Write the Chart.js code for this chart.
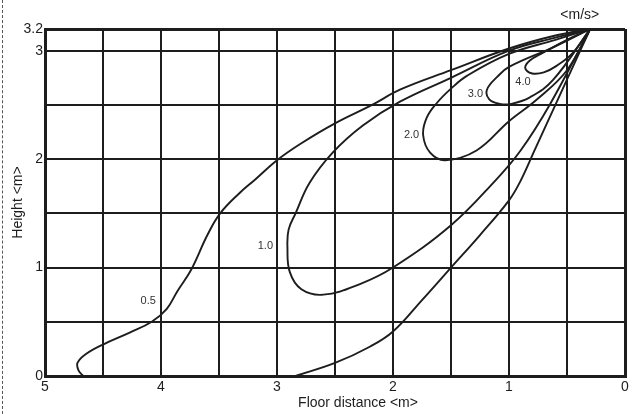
<!DOCTYPE html>
<html>
<head>
<meta charset="utf-8">
<title>Air velocity distribution</title>
<script src="https://cdn.jsdelivr.net/npm/chart.js@4.4.1/dist/chart.umd.min.js"></script>
<style>
  html, body { margin: 0; padding: 0; background: #fff; }
  #wrap { position: relative; width: 632px; height: 414px; }
  #edge { position: absolute; left: 2px; top: 0; height: 414px; border-left: 1px dashed #555; }
</style>
</head>
<body>
<div id="wrap">
  <div id="edge"></div>
  <canvas id="velocityChart"></canvas>
</div>
<script>
// air speed of each contour, m/s
const speeds = [0.5, 1.0, 2.0, 3.0, 4.0];

// contour lines as [floor distance, height] in m, all leaving the outlet at (0.3, 3.2)
const contour05Upper = [
  [4.67, 0.0], [4.71, 0.05], [4.72, 0.12], [4.65, 0.2], [4.5, 0.29], [4.27, 0.4],
  [4.08, 0.5], [3.95, 0.62], [3.86, 0.78], [3.74, 0.98], [3.6, 1.3], [3.49, 1.5],
  [3.32, 1.69], [3.19, 1.81], [3.0, 1.99], [2.8, 2.14], [2.5, 2.33], [2.18, 2.5],
  [1.94, 2.64], [1.5, 2.82], [1.0, 3.02], [0.6, 3.14], [0.3, 3.2]
];
const contour05Lower = [
  [0.3, 3.2], [0.45, 2.85], [0.6, 2.5], [0.78, 2.08], [0.9, 1.8], [1.0, 1.62],
  [1.25, 1.3], [1.5, 1.0], [1.75, 0.7], [2.0, 0.41], [2.2, 0.27], [2.5, 0.12], [2.84, 0.0]
];
const contour10 = [
  [0.3, 3.2], [0.6, 3.12], [1.0, 3.0], [1.5, 2.75], [1.94, 2.53], [2.26, 2.31],
  [2.52, 2.06], [2.72, 1.78], [2.84, 1.5], [2.9, 1.35], [2.91, 1.19], [2.89, 0.96],
  [2.79, 0.8], [2.6, 0.75], [2.28, 0.85], [2.0, 1.0], [1.5, 1.39], [1.12, 1.8],
  [0.9, 2.08], [0.65, 2.5], [0.3, 3.2]
];
const contour20 = [
  [0.3, 3.2], [0.6, 3.1], [1.0, 2.97], [1.36, 2.77], [1.5, 2.65], [1.62, 2.52],
  [1.71, 2.38], [1.74, 2.22], [1.68, 2.06], [1.55, 1.99], [1.28, 2.08], [1.0, 2.35],
  [0.76, 2.55], [0.5, 2.82], [0.3, 3.2]
];
const contour30 = [
  [0.3, 3.2], [0.6, 3.04], [1.0, 2.85], [1.1, 2.76], [1.19, 2.64], [1.17, 2.55],
  [1.08, 2.51], [0.98, 2.51], [0.82, 2.57], [0.62, 2.73], [0.3, 3.2]
];
const contour40 = [
  [0.3, 3.2], [0.5, 3.1], [0.71, 2.98], [0.82, 2.91], [0.86, 2.84], [0.8, 2.79],
  [0.7, 2.8], [0.59, 2.86], [0.45, 2.98], [0.3, 3.2]
];

// where each speed label sits, same order as speeds
const labelAt = [[4.11, 0.69], [3.1, 1.2], [1.84, 2.22], [1.29, 2.6], [0.88, 2.71]];

// grid every 0.5 m, numbers only on whole metres (plus the 3.2 ceiling)
const xTicks = [0, 0.5, 1, 1.5, 2, 2.5, 3, 3.5, 4, 4.5, 5];
const xLabels = ["0", "", "1", "", "2", "", "3", "", "4", "", "5"];
const yTicks = [0, 0.5, 1, 1.5, 2, 2.5, 3, 3.2];
const yLabels = ["0", "", "1", "", "2", "", "3", "3.2"];

const FONT = "'Liberation Sans', Arial, Helvetica, sans-serif";
const INK = "#1d1d1d";

const speedLabels = {
  id: "speedLabels",
  afterDatasetsDraw(chart) {
    const { ctx, chartArea } = chart;
    const x = chart.scales.x;
    const y = chart.scales.y;
    ctx.save();
    ctx.textAlign = "center";
    ctx.textBaseline = "middle";
    ctx.fillStyle = "#333";
    ctx.font = "11px " + FONT;
    speeds.forEach((s, i) => {
      ctx.fillText(s.toFixed(1), x.getPixelForValue(labelAt[i][0]), y.getPixelForValue(labelAt[i][1]));
    });
    ctx.fillStyle = INK;
    ctx.font = "14px " + FONT;
    ctx.fillText("<m/s>", x.getPixelForValue(0.39), chartArea.top - 14);
    ctx.fillText("Floor distance <m>", 358, 403);
    ctx.restore();
  },
};

document.addEventListener("DOMContentLoaded", function () {
  const ctx = document.getElementById("velocityChart").getContext("2d");
  const lines = [contour05Upper, contour05Lower, contour10, contour20, contour30, contour40];

  new Chart(ctx, {
    type: "scatter",
    data: {
      datasets: lines.map((pts) => ({
        data: pts.map((p) => ({ x: p[0], y: p[1] })),
        showLine: true,
        borderColor: INK,
        borderWidth: 1.9,
        pointRadius: 0,
        tension: 0.4,
        fill: false,
      })),
    },
    options: {
      responsive: true,
      maintainAspectRatio: false,
      animation: false,
      layout: { padding: { top: 29, right: 7, left: 0, bottom: 0 } },
      plugins: {
        legend: { display: false },
        tooltip: { enabled: false },
      },
      scales: {
        x: {
          type: "linear",
          reverse: true,
          min: 0,
          max: 5,
          afterBuildTicks: (axis) => {
            axis.ticks = xTicks.map((v) => ({ value: v }));
          },
          afterFit: (axis) => {
            axis.height = 38;
          },
          grid: {
            color: INK,
            lineWidth: (c) => (c.tick && c.tick.value === 0 ? 3 : 2),
            drawTicks: false,
          },
          border: { color: INK, width: 3 },
          ticks: {
            autoSkip: false,
            maxRotation: 0,
            padding: 3,
            color: INK,
            font: { family: FONT, size: 14 },
            callback: (v, i) => xLabels[i],
          },
        },
        y: {
          type: "linear",
          min: 0,
          max: 3.2,
          afterBuildTicks: (axis) => {
            axis.ticks = yTicks.map((v) => ({ value: v }));
          },
          afterFit: (axis) => {
            axis.width = 45;
          },
          grid: {
            color: INK,
            lineWidth: (c) => (c.tick && c.tick.value === 3.2 ? 3 : 2),
            drawTicks: false,
          },
          border: { color: INK, width: 3 },
          title: {
            display: true,
            text: "Height <m>",
            color: INK,
            font: { family: FONT, size: 14 },
            padding: { top: 10, bottom: 0 },
          },
          ticks: {
            autoSkip: false,
            padding: 2,
            color: INK,
            font: { family: FONT, size: 14 },
            callback: (v, i) => yLabels[i],
          },
        },
      },
    },
    plugins: [speedLabels],
  });
});
</script>
</body>
</html>
